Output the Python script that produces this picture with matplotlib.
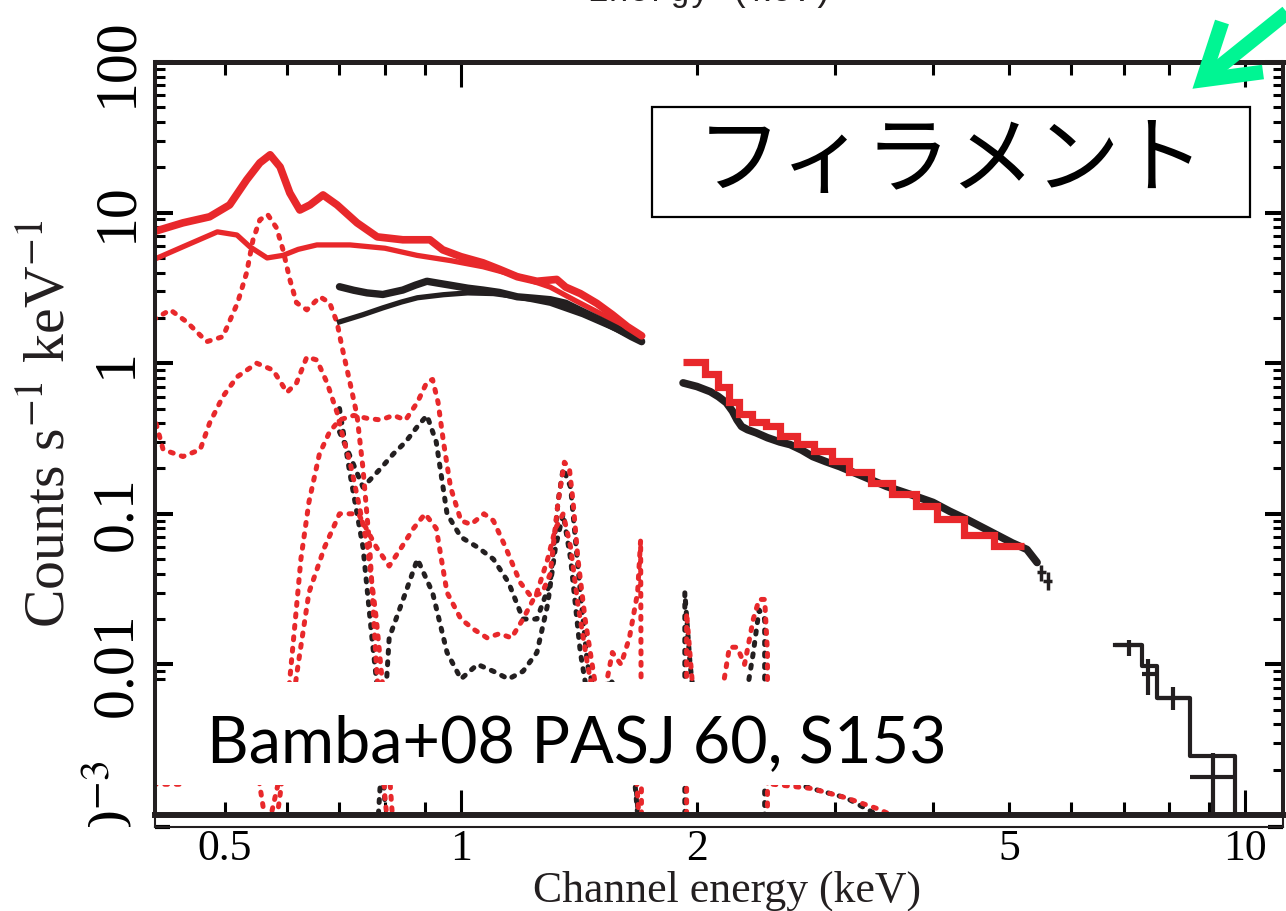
import matplotlib
matplotlib.use("Agg")
import matplotlib.pyplot as plt
from matplotlib.patches import Rectangle
from matplotlib.lines import Line2D
from matplotlib.ticker import FixedLocator, NullFormatter, NullLocator

W, H, DPI = 1286, 911, 100

RED = "#e8282b"
BLACK = "#231f20"
GREEN = "#00f593"

# BI (red) data below the Si edge, keV / counts s-1 keV-1
bi_lo_energy = [0.405, 0.442, 0.478, 0.507, 0.533, 0.554, 0.571, 0.588, 0.605, 0.623,
                0.642, 0.667, 0.695, 0.737, 0.782, 0.843, 0.913, 0.948, 1.0, 1.067,
                1.12, 1.18, 1.25, 1.325, 1.36, 1.42, 1.49, 1.56, 1.63, 1.70]
bi_lo_rate = [7.45, 8.55, 9.38, 11.25, 16.5, 21.4, 24.2, 20.1, 13.5, 10.4,
              11.25, 13.1, 11.25, 8.55, 6.9, 6.6, 6.6, 5.66, 5.1, 4.64,
              4.2, 3.75, 3.5, 3.6, 3.2, 2.9, 2.5, 2.1, 1.75, 1.52]

# BI continuum component
bi_cont_energy = [0.405, 0.442, 0.489, 0.518, 0.538, 0.566, 0.593, 0.62, 0.655, 0.722,
                  0.80, 0.879, 0.97, 1.067, 1.18, 1.30, 1.40, 1.50, 1.60, 1.70]
bi_cont_rate = [4.86, 5.93, 7.45, 7.1, 5.93, 5.0, 5.2, 5.7, 6.1, 6.1,
                5.8, 5.2, 4.8, 4.37, 3.8, 3.2, 2.6, 2.16, 1.8, 1.5]

# BI data above the Si edge (grouped bins)
bi_hi_edges = [1.92, 2.05, 2.13, 2.20, 2.26, 2.35, 2.45, 2.55, 2.68, 2.82,
               2.97, 3.13, 3.33, 3.55, 3.80, 4.05, 4.38, 4.78, 5.22]
bi_hi_rate = [1.02, 0.85, 0.70, 0.55, 0.46, 0.41, 0.38, 0.33, 0.29, 0.26,
              0.225, 0.19, 0.16, 0.135, 0.113, 0.093, 0.072, 0.061]

# FI (black) data and continuum
fi_lo_energy = [0.70, 0.73, 0.759, 0.795, 0.843, 0.875, 0.905, 0.935, 0.968, 1.02,
                1.067, 1.12, 1.18, 1.24, 1.30, 1.36, 1.43, 1.5, 1.58, 1.65, 1.70]
fi_lo_rate = [3.22, 3.05, 2.93, 2.86, 3.06, 3.3, 3.5, 3.4, 3.3, 3.15,
              3.06, 2.95, 2.76, 2.7, 2.64, 2.5, 2.2, 1.95, 1.7, 1.5, 1.39]
fi_cont_energy = [0.70, 0.75, 0.795, 0.84, 0.88, 0.95, 1.02, 1.1, 1.18, 1.3,
                  1.43, 1.55, 1.70]
fi_cont_rate = [1.88, 2.1, 2.33, 2.55, 2.72, 2.85, 2.93, 2.9, 2.76, 2.5,
                2.1, 1.75, 1.4]
fi_hi_energy = [1.92, 2.0, 2.08, 2.13, 2.18, 2.22, 2.25, 2.28, 2.32, 2.38,
                2.46, 2.55, 2.63, 2.72, 2.81, 2.92, 3.04, 3.25, 3.49, 3.75,
                4.0, 4.2, 4.42, 4.65, 4.87, 5.05, 5.27, 5.43]
fi_hi_rate = [0.74, 0.70, 0.647, 0.60, 0.547, 0.48, 0.42, 0.38, 0.362, 0.345,
              0.32, 0.30, 0.288, 0.265, 0.240, 0.222, 0.206, 0.178, 0.152, 0.134,
              0.119, 0.104, 0.0917, 0.080, 0.0706, 0.064, 0.058, 0.0475]
fi_tail_energy = [5.5, 5.6]
fi_tail_rate = [0.041, 0.036]
fi_tail_err_lo = [0.005, 0.005]
fi_tail_err_hi = [0.005, 0.005]

# FI hard band: model steps and data with errors
fi_hard_edges = [6.83, 7.39, 7.72, 8.51, 9.71]
fi_hard_model = [0.0134, 0.0097, 0.0060, 0.00245, 0.0005]
fi_hard_energy = [7.11, 7.52, 8.09, 9.10]
fi_hard_rate = [0.0134, 0.0086, 0.0060, 0.0018]
fi_hard_low = [0.0113, 0.0063, 0.0050, 0.0005]
fi_hard_high = [0.0146, 0.0108, 0.0071, 0.0026]

# line components (dotted)
bi_comp1_energy = [0.405, 0.426, 0.447, 0.474, 0.497, 0.519, 0.533, 0.543, 0.554, 0.567,
                   0.582, 0.593, 0.605, 0.617, 0.636, 0.661, 0.680, 0.695, 0.705, 0.722,
                   0.737, 0.75, 0.765, 0.78, 0.79, 0.80, 0.81]
bi_comp1_rate = [1.94, 2.26, 1.88, 1.39, 1.50, 2.52, 4.0, 6.6, 8.95, 9.7,
                 7.9, 5.66, 3.6, 2.52, 2.26, 2.76, 2.52, 1.86, 1.29, 0.74,
                 0.45, 0.2, 0.06, 0.01, 0.004, 0.0013, 0.0007]
bi_comp2_energy = [0.405, 0.417, 0.442, 0.465, 0.478, 0.497, 0.518, 0.549, 0.576, 0.600,
                   0.617, 0.636, 0.655, 0.675, 0.695, 0.707, 0.722, 0.74, 0.76, 0.78,
                   0.80, 0.82]
bi_comp2_rate = [0.47, 0.267, 0.24, 0.267, 0.40, 0.60, 0.81, 1.0, 0.9, 0.64,
                 0.74, 1.1, 1.05, 0.74, 0.47, 0.325, 0.22, 0.12, 0.06, 0.02,
                 0.005, 0.0008]
bi_comp3_energy = [0.57, 0.59, 0.605, 0.615, 0.625, 0.64, 0.66, 0.68, 0.70, 0.73,
                   0.76, 0.79, 0.82, 0.85, 0.88, 0.905, 0.92, 0.935, 0.95, 0.97,
                   1.0, 1.03, 1.07, 1.10, 1.14, 1.19, 1.23, 1.27, 1.30, 1.33,
                   1.355, 1.375, 1.39, 1.41, 1.44, 1.48, 1.52, 1.56, 1.60, 1.64,
                   1.68, 1.695, 1.70]
bi_comp3_rate = [0.0009, 0.002, 0.008, 0.02, 0.05, 0.12, 0.25, 0.35, 0.42, 0.45,
                 0.43, 0.42, 0.45, 0.42, 0.55, 0.75, 0.78, 0.55, 0.3, 0.15,
                 0.09, 0.085, 0.10, 0.09, 0.06, 0.035, 0.028, 0.03, 0.04, 0.12,
                 0.22, 0.20, 0.12, 0.05, 0.02, 0.008, 0.006, 0.012, 0.01, 0.015,
                 0.03, 0.067, 0.0005]
bi_comp4_energy = [0.58, 0.60, 0.62, 0.64, 0.67, 0.70, 0.74, 0.78, 0.81, 0.84,
                   0.87, 0.90, 0.93, 0.96, 1.0, 1.04, 1.08, 1.12, 1.16, 1.20,
                   1.25, 1.29, 1.32, 1.35, 1.38, 1.41, 1.45, 1.50, 1.55, 1.60,
                   1.65, 1.70]
bi_comp4_rate = [0.0008, 0.003, 0.01, 0.03, 0.06, 0.1, 0.1, 0.06, 0.045, 0.06,
                 0.08, 0.1, 0.08, 0.03, 0.02, 0.017, 0.015, 0.016, 0.015, 0.02,
                 0.03, 0.05, 0.08, 0.10, 0.06, 0.025, 0.01, 0.004, 0.007, 0.005,
                 0.006, 0.0005]
bi_comp5_energy = [0.405, 0.44, 0.48, 0.52, 0.55, 0.57]
bi_comp5_rate = [0.0016, 0.0016, 0.003, 0.004, 0.002, 0.0006]
bi_comp6_energy = [1.94, 1.94, 1.98, 2.05, 2.12, 2.20, 2.25, 2.30, 2.36, 2.40,
                   2.44, 2.46, 2.46]
bi_comp6_rate = [0.0005, 0.022, 0.006, 0.003, 0.004, 0.013, 0.013, 0.01, 0.02, 0.027,
                 0.027, 0.012, 0.0005]
bi_comp7_energy = [2.5, 2.8, 3.1, 3.4, 3.7]
bi_comp7_rate = [0.0016, 0.0015, 0.0013, 0.0011, 0.0009]

fi_comp1_energy = [0.70, 0.72, 0.75, 0.79, 0.82, 0.85, 0.88, 0.905, 0.93, 0.96,
                   1.0, 1.05, 1.1, 1.15, 1.2, 1.25, 1.3, 1.33, 1.35, 1.38,
                   1.42, 1.45, 1.5, 1.55, 1.6, 1.65, 1.70]
fi_comp1_rate = [0.35, 0.25, 0.15, 0.2, 0.25, 0.3, 0.38, 0.45, 0.3, 0.1,
                 0.07, 0.06, 0.05, 0.035, 0.02, 0.02, 0.035, 0.12, 0.2, 0.15,
                 0.03, 0.01, 0.005, 0.008, 0.006, 0.004, 0.0005]
fi_comp2_energy = [0.70, 0.72, 0.75, 0.77, 0.78, 0.79, 0.80]
fi_comp2_rate = [0.5, 0.2, 0.06, 0.015, 0.008, 0.0035, 0.0012]
fi_comp3_energy = [0.78, 0.81, 0.85, 0.88, 0.92, 0.96, 1.0, 1.05, 1.1, 1.15,
                   1.2, 1.25, 1.29, 1.32, 1.35, 1.38, 1.42, 1.46, 1.5, 1.55,
                   1.6, 1.65, 1.70]
fi_comp3_rate = [0.0006, 0.015, 0.03, 0.05, 0.03, 0.012, 0.008, 0.01, 0.009, 0.008,
                 0.009, 0.012, 0.025, 0.06, 0.1, 0.05, 0.012, 0.005, 0.003, 0.004,
                 0.005, 0.003, 0.0005]
fi_comp4_energy = [1.93, 1.93, 1.96, 2.0, 2.06, 2.12, 2.2, 2.28, 2.36, 2.40,
                   2.44, 2.44]
fi_comp4_rate = [0.0005, 0.03, 0.01, 0.004, 0.0025, 0.002, 0.0018, 0.004, 0.012, 0.023,
                 0.02, 0.0005]
fi_comp5_energy = [2.5, 2.8, 3.1, 3.4, 3.7]
fi_comp5_rate = [0.0018, 0.0015, 0.0013, 0.001, 0.0008]

x_ticks = [0.5, 1, 2, 5, 10]
x_tick_labels = ["0.5", "1", "2", "5", "10"]
y_ticks = [1e-3, 1e-2, 0.1, 1, 10, 100]
y_tick_labels = [r"$10^{-3}$", "0.01", "0.1", "1", "10", "100"]

plt.rcParams["font.family"] = ["Liberation Serif", "DejaVu Serif"]
plt.rcParams["mathtext.fontset"] = "stix"


def fx(x):
    return x / W


def fy(y):
    return 1 - y / H


fig = plt.figure(figsize=(W / DPI, H / DPI), dpi=DPI)
ax = fig.add_axes([fx(155), fy(815), (1283 - 155) / W, (815 - 62) / H])

dotted = dict(lw=3.6, linestyle=(0, (0.6, 1.7)), dash_capstyle="round", zorder=2)
for e, r in [(fi_comp1_energy, fi_comp1_rate), (fi_comp2_energy, fi_comp2_rate),
             (fi_comp3_energy, fi_comp3_rate), (fi_comp4_energy, fi_comp4_rate),
             (fi_comp5_energy, fi_comp5_rate)]:
    ax.plot(e, r, color=BLACK, **dotted)
for e, r in [(bi_comp1_energy, bi_comp1_rate), (bi_comp2_energy, bi_comp2_rate),
             (bi_comp3_energy, bi_comp3_rate), (bi_comp4_energy, bi_comp4_rate),
             (bi_comp5_energy, bi_comp5_rate), (bi_comp6_energy, bi_comp6_rate),
             (bi_comp7_energy, bi_comp7_rate)]:
    ax.plot(e, r, color=RED, **dotted)

# continua
ax.plot(fi_cont_energy, fi_cont_rate, color=BLACK, lw=3.8, zorder=2.1)
ax.plot(bi_cont_energy, bi_cont_rate, color=RED, lw=3.8, zorder=2.15)

# data
ax.plot(fi_lo_energy, fi_lo_rate, color=BLACK, lw=5.3, zorder=2.2,
        solid_capstyle="round")
ax.plot(fi_hi_energy, fi_hi_rate, color=BLACK, lw=5.5, zorder=2.2,
        solid_capstyle="round")
ax.errorbar(fi_tail_energy, fi_tail_rate, xerr=0.07,
            yerr=[fi_tail_err_lo, fi_tail_err_hi], fmt="none", ecolor=BLACK,
            elinewidth=2.5, zorder=2.2)
ax.plot(bi_lo_energy, bi_lo_rate, color=RED, lw=5.5, zorder=2.3,
        solid_capstyle="round")
ax.stairs(bi_hi_rate, bi_hi_edges, color=RED, lw=5.2, baseline=None, zorder=2.3)

ax.plot(fi_hard_edges, fi_hard_model, color=BLACK, lw=3.0,
        drawstyle="steps-post", zorder=2.2)
xlo = [e - lo for e, lo in zip(fi_hard_energy, fi_hard_edges[:-1])]
xhi = [hi - e for e, hi in zip(fi_hard_energy, fi_hard_edges[1:])]
ylo = [r - lo for r, lo in zip(fi_hard_rate, fi_hard_low)]
yhi = [hi - r for r, hi in zip(fi_hard_rate, fi_hard_high)]
ax.errorbar(fi_hard_energy, fi_hard_rate, xerr=[xlo, xhi], yerr=[ylo, yhi],
            fmt="none", ecolor=BLACK, elinewidth=3.0, zorder=2.2)

ax.set_xscale("log")
ax.set_yscale("log")
ax.set_xlim(0.4072, 11.18)
ax.set_ylim(1e-3, 100)

ax.xaxis.set_major_locator(FixedLocator([1, 10]))
ax.xaxis.set_minor_locator(FixedLocator([0.5, 0.6, 0.7, 0.8, 0.9, 2, 3, 4, 5, 6, 7, 8, 9]))
ax.xaxis.set_major_formatter(NullFormatter())
ax.xaxis.set_minor_formatter(NullFormatter())
ax.set_yticks(y_ticks, labels=y_tick_labels)
ax.yaxis.set_minor_locator(FixedLocator([m * 10.0 ** k for k in range(-3, 2) for m in range(2, 10)]))
ax.yaxis.set_minor_formatter(NullFormatter())

ax.tick_params(axis="x", which="major", direction="in", length=18, width=2.2,
               top=True, bottom=True, labelbottom=False)
ax.tick_params(axis="x", which="minor", direction="in", length=9.4, width=2.2,
               top=True, bottom=True)
ax.tick_params(axis="y", which="major", direction="in", length=13, width=2.9,
               left=True, right=True, labelsize=43, pad=8)
ax.tick_params(axis="y", which="minor", direction="in", length=7, width=2.2,
               left=True, right=True)
for lab in ax.get_yticklabels():
    lab.set_rotation(90)
    lab.set_va("center")

ax.spines["top"].set_linewidth(3.6)
ax.spines["left"].set_linewidth(2.9)
ax.spines["right"].set_linewidth(2.9)
ax.spines["bottom"].set_linewidth(4.3)
for s in ax.spines.values():
    s.set_color(BLACK)

# thin strip under the frame carrying the energy labels
ax_lo = fig.add_axes([fx(155), fy(827), (1283 - 155) / W, 12 / H])
ax_lo.patch.set_visible(False)
ax_lo.set_xscale("log")
ax_lo.set_xlim(0.4072, 11.18)
ax_lo.set_ylim(0, 1)
ax_lo.set_xticks(x_ticks, labels=x_tick_labels)
ax_lo.xaxis.set_minor_locator(NullLocator())
ax_lo.tick_params(axis="x", length=0, labelsize=31.5, pad=1.5)
ax_lo.set_yticks([0])
ax_lo.tick_params(axis="y", direction="in", length=11, width=3, left=True,
                  right=True, labelleft=False)
ax_lo.spines["top"].set_visible(False)
for s in ["left", "right", "bottom"]:
    ax_lo.spines[s].set_linewidth(1.5)
    ax_lo.spines[s].set_color(BLACK)

# white panel behind the reference text
ax.add_patch(Rectangle((fx(157), fy(785)), (955 - 157) / W, (785 - 682) / H,
                       transform=fig.transFigure, facecolor="white",
                       edgecolor="none", zorder=2.4, clip_on=False))
fig.text(fx(207), fy(762), "Bamba+08 PASJ 60, S153", family="Lato",
         fontsize=46.5, ha="left", va="baseline", color="black")

fig.text(fx(50), fy(424), r"Counts s$^{-1}$ keV$^{-1}$", rotation=90,
         ha="center", va="center", fontsize=41.5, color=BLACK)
fig.text(fx(727), fy(902), "Channel energy (keV)", ha="center",
         va="baseline", fontsize=31.5, color=BLACK)
fig.text(fx(710), fy(1), "Energy (keV)", family="Liberation Mono",
         fontsize=24.5, ha="center", va="baseline", color=BLACK)

# cut-off below the strip
fig.add_artist(Rectangle((0, 0), fx(150), (H - 827) / H,
                         transform=fig.transFigure, facecolor="white",
                         edgecolor="none", zorder=10))

# title box
fig.add_artist(Rectangle((fx(652), fy(217)), (1250 - 652) / W, (217 - 107) / H,
                         transform=fig.transFigure, facecolor="white",
                         edgecolor="black", lw=1.6, zorder=5))
fig.text(fx(951), fy(162), "フィラメント", family=["Noto Sans CJK JP"],
         fontsize=61, ha="center", va="center", color="black", zorder=6)

# green pointer
fig.add_artist(Line2D([fx(1222), fx(1203), fx(1263)], [fy(22), fy(80), fy(72)],
                      transform=fig.transFigure, color=GREEN, lw=10.5,
                      solid_joinstyle="miter", solid_capstyle="butt", zorder=7))
fig.add_artist(Line2D([fx(1203), fx(1300)], [fy(80), fy(2)],
                      transform=fig.transFigure, color=GREEN, lw=10.5,
                      solid_capstyle="butt", zorder=7))

fig.savefig("out.png", dpi=DPI)
